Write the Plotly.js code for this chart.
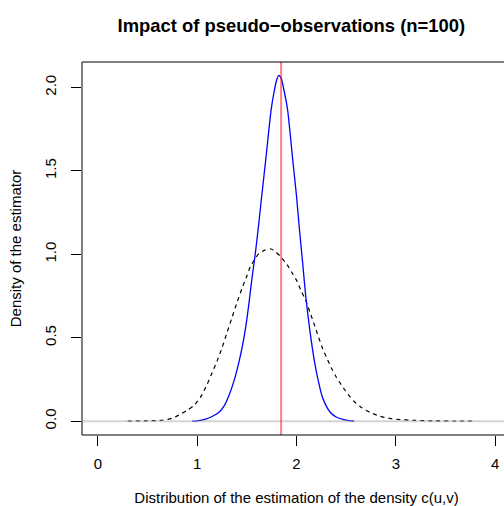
<!DOCTYPE html>
<html>
<head>
<meta charset="utf-8">
<script src="https://cdn.plot.ly/plotly-3.0.1.min.js"></script>
<style>
html,body{margin:0;padding:0;overflow:hidden;background:#fff;}
#chart{width:560px;height:506px;}
</style>
</head>
<body>
<div id="chart"></div>
<script>
// Estimated density of the estimator with pseudo-observations (dashed)
const dashedX = [0.30,0.50,0.66,0.75,0.832,0.90,0.97,1.04,1.10,1.15,1.20,1.25,1.30,1.35,1.40,1.453,1.50,1.536,1.58,1.62,1.68,1.744,1.79,1.838,1.905,1.95,2.006,2.05,2.09,2.14,2.173,2.21,2.257,2.30,2.358,2.40,2.459,2.52,2.576,2.65,2.743,2.84,2.945,3.05,3.146,3.38,3.60,3.77];
const dashedY = [0.001,0.002,0.007,0.018,0.042,0.066,0.095,0.150,0.221,0.290,0.360,0.440,0.530,0.620,0.710,0.799,0.870,0.928,0.970,1.004,1.025,1.032,1.015,0.988,0.938,0.895,0.838,0.776,0.729,0.645,0.590,0.525,0.445,0.385,0.311,0.265,0.211,0.160,0.121,0.083,0.052,0.030,0.016,0.009,0.006,0.002,0.001,0.001];
// Density of the estimator with true observations (blue)
const blueX = [0.95,1.00,1.083,1.15,1.217,1.27,1.318,1.37,1.419,1.455,1.485,1.52,1.55,1.58,1.613,1.65,1.69,1.744,1.771,1.80,1.822,1.845,1.881,1.911,1.962,2.000,2.030,2.062,2.093,2.133,2.183,2.22,2.257,2.30,2.341,2.40,2.475,2.53,2.58];
const blueY = [0.000,0.002,0.012,0.028,0.052,0.090,0.151,0.240,0.351,0.450,0.550,0.700,0.850,0.980,1.147,1.350,1.566,1.864,1.964,2.045,2.073,2.055,1.964,1.864,1.566,1.350,1.147,0.948,0.749,0.550,0.351,0.240,0.151,0.090,0.052,0.025,0.010,0.004,0.001];
// True density value (red vertical line) and reference level (gray)
const trueValue = 1.845;
const baseLevel = 0;
const xTicks = [0,1,2,3,4];
const xTickText = ['0','1','2','3','4'];
const yTicks = [0,0.5,1,1.5,2];
const yTickText = ['0.0','0.5','1.0','1.5','2.0'];
const xLim = [0,4];
const yLim = [0,2.07];

const font = 'Liberation Sans, Arial, Helvetica, sans-serif';
const pad = (lim) => { const d = (lim[1]-lim[0])*0.04; return [lim[0]-d, lim[1]+d]; };

const traces = [
  {x: dashedX, y: dashedY, type:'scatter', mode:'lines', line:{color:'#000', width:1.2, dash:'4px,4px', shape:'spline', smoothing:0.6}, hoverinfo:'skip'},
  {x: blueX, y: blueY, type:'scatter', mode:'lines', line:{color:'#0000ff', width:1.3, shape:'spline', smoothing:0.6}, hoverinfo:'skip'}
];

const layout = {
  width:560, height:506,
  margin:{l:82, r:49, t:62, b:71},
  paper_bgcolor:'#fff', plot_bgcolor:'#fff',
  showlegend:false,
  font:{family:font, color:'#000', size:15},
  title:{text:'<b>Impact of pseudo\u2212observations (n=100)</b>', font:{family:font, size:18.4, color:'#000'}, x:0.488, xref:'paper', y:1-26/506, yref:'container', yanchor:'middle'},
  xaxis:{range:pad(xLim), tickvals:xTicks, ticktext:xTickText, ticks:'outside', ticklen:10, tickwidth:1, tickcolor:'#000', showgrid:false, zeroline:false, showline:false,
    tickfont:{family:font, size:15}, ticklabelstandoff:5,
    title:{text:'Distribution of the estimation of the density c(u,v)', font:{family:font, size:15}, standoff:30}},
  yaxis:{range:pad(yLim), tickvals:yTicks, ticktext:yTickText, ticks:'outside', ticklen:10, tickwidth:1, tickcolor:'#000', showgrid:false, zeroline:false, showline:false,
    tickangle:-90, tickfont:{family:font, size:15}, ticklabelstandoff:9,
    title:{text:'Density of the estimator', font:{family:font, size:15}, standoff:16}},
  shapes:[
    {type:'line', xref:'paper', yref:'y', x0:0, x1:1, y0:baseLevel, y1:baseLevel, line:{color:'rgba(160,160,160,0.45)', width:2}, layer:'above'},
    {type:'line', xref:'x', yref:'paper', x0:trueValue, x1:trueValue, y0:0, y1:1, line:{color:'rgba(255,0,0,0.5)', width:2}, layer:'above'},
    {type:'rect', xref:'paper', yref:'paper', x0:0, x1:1, y0:0, y1:1, line:{color:'#000', width:1}, layer:'above'}
  ]
};

Plotly.newPlot('chart', traces, layout, {staticPlot:true, displayModeBar:false});
</script>
</body>
</html>
